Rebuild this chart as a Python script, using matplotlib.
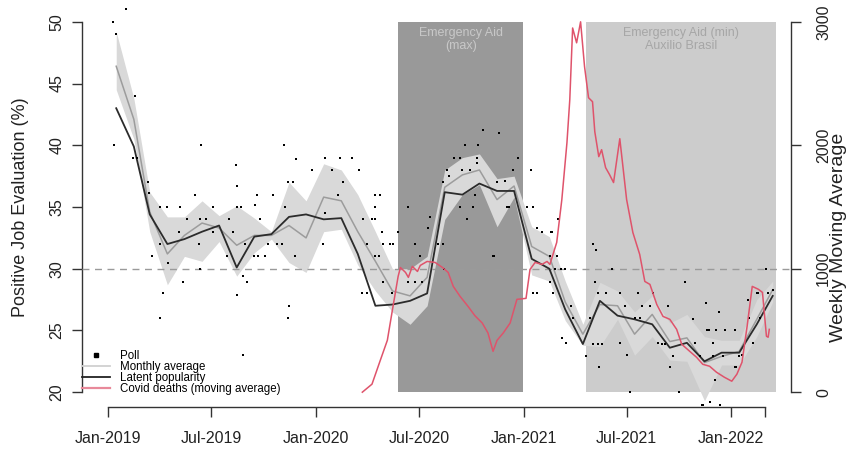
import numpy as np
import pandas as pd
import matplotlib
matplotlib.use("Agg")
import matplotlib.pyplot as plt
import matplotlib.dates as mdates
from matplotlib.lines import Line2D

plt.rcParams["font.family"] = ["Liberation Sans", "DejaVu Sans"]

# ---------- Data ----------
# monthly series, plotted at mid-month, Jan-2019 .. Mar-2022
MONTHS = pd.date_range("2019-01-01", periods=39, freq="MS") + pd.Timedelta(days=14)

LATENT = [43.0, 39.9, 34.4, 32.0, 32.4, 33.0, 33.5, 30.1, 32.6, 32.8,
          34.2, 34.4, 34.0, 34.1, 31.2, 27.0, 27.1, 27.4, 28.0, 36.2,
          36.0, 36.9, 36.3, 36.3, 30.8, 30.0, 26.7, 23.9, 27.4, 26.2,
          25.9, 25.5, 23.6, 24.0, 22.5, 23.2, 23.2, 25.5, 27.8]

MONTHLY = [46.4, 42.1, 34.6, 31.2, 32.7, 33.7, 33.3, 31.9, 32.7, 32.7,
           33.5, 32.5, 35.8, 35.5, 33.0, 30.6, 28.2, 27.8, 29.3, 36.6,
           37.6, 38.0, 35.6, 36.7, 31.8, 31.0, 27.3, 24.7, 27.1, 27.0,
           24.7, 26.3, 24.1, 24.4, 22.4, 22.9, 23.3, 25.9, 28.3]

RIB_LO = [44.5, 40.5, 33.0, 28.7, 31.0, 30.6, 32.2, 29.4, 31.3, 32.4,
          30.5, 29.7, 33.0, 33.2, 30.3, 28.2, 26.5, 25.5, 27.0, 34.0,
          36.0, 36.8, 33.4, 35.8, 29.5, 29.0, 25.8, 23.8, 23.7, 25.9,
          23.0, 24.5, 22.6, 22.5, 19.3, 22.2, 22.2, 24.5, 27.3]

RIB_HI = [49.2, 43.8, 36.2, 34.2, 34.2, 35.5, 34.3, 35.1, 34.1, 33.0,
          37.0, 35.5, 38.5, 38.0, 36.0, 33.0, 30.0, 30.0, 31.0, 38.0,
          39.0, 39.3, 37.3, 37.5, 33.4, 32.6, 29.0, 25.5, 28.9, 28.2,
          26.5, 27.8, 25.6, 26.3, 24.5, 24.2, 24.2, 27.5, 29.0]

# individual polls
POLL_DATES = [
    "2019-01-09", "2019-01-15", "2019-02-01", "2019-01-11", "2019-02-17", "2019-02-14",
    "2019-02-21", "2019-03-12", "2019-03-14", "2019-03-19", "2019-04-02", "2019-04-14",
    "2019-05-07", "2019-04-02", "2019-04-16", "2019-04-07", "2019-04-02", "2019-05-13",
    "2019-05-06", "2019-05-20", "2019-06-03", "2019-06-12", "2019-06-22", "2019-06-13",
    "2019-06-10", "2019-06-12", "2019-07-04", "2019-07-04", "2019-08-02", "2019-07-29",
    "2019-08-14", "2019-08-16", "2019-08-16", "2019-08-23", "2019-08-16", "2019-08-26",
    "2019-09-02", "2019-08-26", "2019-08-09", "2019-08-30", "2019-09-20", "2019-09-16",
    "2019-09-25", "2019-09-15", "2019-09-22", "2019-10-04", "2019-10-18", "2019-10-09",
    "2019-10-25", "2019-11-03", "2019-11-06", "2019-11-13", "2019-11-22", "2019-11-08",
    "2019-11-15", "2019-11-13", "2019-11-26", "2019-11-28", "2019-12-26", "2020-01-18",
    "2020-02-13", "2020-03-05", "2020-01-30", "2020-02-18", "2020-02-09", "2020-03-17",
    "2020-01-18", "2020-01-14", "2020-04-14", "2020-04-23", "2020-04-14", "2020-03-24",
    "2020-04-09", "2020-04-14", "2020-04-27", "2020-03-31", "2020-04-29", "2020-05-11",
    "2020-05-16", "2020-04-14", "2020-04-22", "2020-04-29", "2020-03-23", "2020-03-31",
    "2020-05-14", "2020-05-25", "2020-06-12", "2020-06-24", "2020-06-12", "2020-06-24",
    "2020-07-06", "2020-07-03", "2020-07-17", "2020-07-20", "2020-08-03", "2020-08-12",
    "2020-08-14", "2020-08-19", "2020-08-12", "2020-08-23", "2020-09-01", "2020-09-11",
    "2020-09-20", "2020-09-15", "2020-09-29", "2020-09-11", "2020-09-24", "2020-10-04",
    "2020-10-07", "2020-10-12", "2020-10-11", "2020-10-11", "2020-10-21", "2020-11-19",
    "2020-11-08", "2020-11-10", "2020-11-15", "2020-11-29", "2020-12-02", "2020-12-06",
    "2020-12-13", "2020-12-22", "2021-01-06", "2021-01-13", "2021-01-18", "2021-01-25",
    "2021-02-02", "2021-02-18", "2021-02-28", "2021-03-02", "2021-02-25", "2021-03-07",
    "2021-03-14", "2021-01-18", "2021-01-25", "2021-02-16", "2021-05-02", "2021-05-06",
    "2021-02-19", "2021-02-16", "2021-02-28", "2021-02-21", "2021-03-26", "2021-03-09",
    "2021-03-16", "2021-03-28", "2021-04-27", "2021-05-08", "2021-05-11", "2021-05-25",
    "2021-06-06", "2021-06-19", "2021-06-28", "2021-07-21", "2021-07-28", "2021-04-21",
    "2021-05-02", "2021-05-11", "2021-05-18", "2021-05-13", "2021-06-19", "2021-07-01",
    "2021-07-07", "2021-07-16", "2021-07-24", "2021-08-11", "2021-08-16", "2021-08-25",
    "2021-09-12", "2021-09-02", "2021-09-07", "2021-09-21", "2021-09-15", "2021-09-16",
    "2021-10-01", "2021-10-11", "2021-10-26", "2021-10-29", "2021-11-07", "2021-11-19",
    "2021-11-18", "2021-11-30", "2021-12-10", "2021-11-23", "2021-12-06", "2021-12-03",
    "2021-11-10", "2021-11-12", "2021-11-24", "2021-12-12", "2021-12-18", "2022-01-08",
    "2022-01-08", "2022-01-10", "2022-01-20", "2022-02-01", "2022-01-31", "2022-02-09",
    "2022-02-21", "2022-02-16", "2022-02-18", "2022-03-04", "2022-03-06", "2022-03-16",
    "2021-12-21", "2021-11-30", "2022-01-15",
]
POLL_VALS = [
    50.0, 49.0, 51.0, 40.0, 44.0, 39.0,
    39.0, 37.0, 36.1, 31.0, 35.0, 35.0,
    35.0, 32.0, 30.5, 28.0, 26.0, 28.9,
    33.0, 34.0, 36.0, 34.0, 34.0, 40.0,
    32.0, 30.0, 35.0, 33.0, 34.0, 31.0,
    38.4, 36.7, 35.0, 35.0, 27.9, 29.4,
    28.9, 23.0, 33.0, 32.0, 36.0, 35.2,
    34.0, 31.0, 31.0, 31.0, 36.0, 32.0,
    32.0, 32.0, 40.0, 37.0, 37.0, 35.0,
    27.0, 26.0, 31.0, 38.9, 38.0, 39.0,
    39.0, 39.0, 38.0, 37.0, 36.0, 38.0,
    34.5, 32.0, 36.0, 36.0, 35.0, 34.0,
    34.0, 34.0, 33.0, 32.0, 32.0, 32.0,
    32.0, 31.0, 31.0, 28.9, 28.0, 28.0,
    28.0, 33.0, 35.0, 32.0, 28.9, 28.9,
    28.9, 31.0, 33.3, 34.2, 32.0, 32.0,
    30.0, 38.0, 37.0, 37.5, 39.0, 39.0,
    40.0, 38.0, 38.0, 35.0, 34.0, 35.0,
    36.0, 40.0, 39.0, 38.6, 41.2, 41.0,
    31.0, 31.0, 37.0, 37.1, 35.0, 35.0,
    38.0, 39.0, 35.0, 38.0, 35.0, 33.3,
    33.0, 33.0, 31.0, 34.0, 30.0, 30.0,
    30.0, 28.0, 28.0, 28.9, 32.0, 28.9,
    33.0, 31.0, 31.0, 28.0, 27.0, 24.4,
    24.0, 26.0, 26.0, 31.5, 28.0, 28.0,
    30.0, 28.0, 27.0, 28.0, 27.0, 22.9,
    23.9, 23.9, 23.9, 22.0, 24.0, 23.0,
    20.0, 26.0, 26.0, 27.0, 28.0, 24.0,
    27.0, 23.9, 23.9, 22.9, 22.0, 22.0,
    20.0, 28.9, 25.9, 24.0, 22.9, 25.0,
    27.2, 22.9, 26.5, 25.0, 25.0, 21.0,
    19.0, 19.0, 19.2, 19.0, 22.9, 25.0,
    22.0, 22.0, 23.0, 26.0, 27.5, 24.0,
    26.0, 28.0, 28.0, 30.0, 28.0, 28.3,
    25.0, 24.0, 22.9,
]

# covid deaths, weekly moving average
COVID_DATES = [
    "2020-03-23", "2020-04-09", "2020-04-23", "2020-05-06", "2020-05-16", "2020-05-25",
    "2020-05-29", "2020-06-07", "2020-06-12", "2020-06-19", "2020-06-28", "2020-07-03",
    "2020-07-15", "2020-07-29", "2020-08-11", "2020-08-21", "2020-08-30", "2020-09-11",
    "2020-09-25", "2020-10-07", "2020-10-20", "2020-10-30", "2020-11-08", "2020-11-15",
    "2020-11-26", "2020-12-08", "2020-12-20", "2021-01-05", "2021-01-12", "2021-01-21",
    "2021-02-02", "2021-02-11", "2021-02-16", "2021-02-28", "2021-03-09", "2021-03-18",
    "2021-03-23", "2021-03-28", "2021-04-04", "2021-04-11", "2021-04-18", "2021-04-25",
    "2021-05-02", "2021-05-06", "2021-05-13", "2021-05-18", "2021-05-25", "2021-06-01",
    "2021-06-08", "2021-06-19", "2021-07-01", "2021-07-12", "2021-07-24", "2021-08-02",
    "2021-08-11", "2021-08-23", "2021-09-03", "2021-09-15", "2021-09-27", "2021-10-06",
    "2021-10-20", "2021-11-01", "2021-11-12", "2021-11-24", "2021-12-06", "2021-12-20",
    "2022-01-02", "2022-01-11", "2022-01-20", "2022-01-29", "2022-02-07", "2022-02-18",
    "2022-02-25", "2022-03-04", "2022-03-07", "2022-03-09",
]
COVID_VALS = [
    0, 65, 250, 420, 695, 938,
    1010, 970, 930, 1019, 978, 1027,
    1059, 1051, 1010, 970, 857, 776,
    695, 620, 560, 480, 331, 420,
    480, 560, 752, 760, 994, 1051,
    1035, 1059, 1035, 1213, 1560, 2021,
    2369, 2950, 2830, 3000, 2636, 2385,
    2353, 2110, 1908, 1964, 1819, 1762,
    1698, 2053, 1560, 1293, 1116, 897,
    873, 711, 614, 590, 509, 388,
    331, 283, 226, 210, 162, 121,
    89, 146, 243, 534, 857, 833,
    808, 453, 445, 509,
]

AID_MAX = ("2020-05-25", "2020-12-31")
AID_MIN = ("2021-04-21", "2022-03-20")

XTICKS = ["2019-01-01", "2019-07-01", "2020-01-01", "2020-07-01",
          "2021-01-01", "2021-07-01", "2022-01-01", "2022-03-01"]
XTICKLABELS = ["Jan-2019", "Jul-2019", "Jan-2020", "Jul-2020",
               "Jan-2021", "Jul-2021", "Jan-2022", ""]

# ---------- Plot ----------
poll_d = pd.to_datetime(POLL_DATES)
covid_d = pd.to_datetime(COVID_DATES)
xt = pd.to_datetime(XTICKS)

fig = plt.figure(figsize=(8.48, 4.5), dpi=100)
ax = fig.add_axes([82 / 848, 43 / 450, 709 / 848, 400 / 450])
ax2 = ax.twinx()

# R-style 4% padding around data range
x0, x1 = mdates.date2num(xt[0]), mdates.date2num(xt[-1])
pad = 0.04 * (x1 - x0)
ax.set_xlim(x0 - pad, x1 + pad)
ax.set_ylim(20 - 1.2, 50 + 1.2)
ax2.set_ylim(0 - 120, 3000 + 120)

# policy periods
amax = pd.to_datetime(list(AID_MAX))
amin = pd.to_datetime(list(AID_MIN))
ax.fill_between(amax, 20, 50, color="#999999", lw=0, zorder=0)
ax.fill_between(amin, 20, 50, color="#CCCCCC", lw=0, zorder=0)
ax.text(amax[0] + (amax[1] - amax[0]) / 2, 49.6, "Emergency Aid\n(max)",
        ha="center", va="top", fontsize=9, color="#C8C8C8", linespacing=1.15, zorder=1)
ax.text(amin[0] + (amin[1] - amin[0]) / 2, 49.6, "Emergency Aid (min)\nAuxilio Brasil",
        ha="center", va="top", fontsize=9, color="#A6A6A6", linespacing=1.15, zorder=1)

ax.fill_between(MONTHS, RIB_LO, RIB_HI, color="#D9D9D9", lw=0, zorder=2)
ax.axhline(30, color="#9A9A9A", lw=1, ls=(0, (5, 4)), zorder=3)
ax.plot(MONTHS, MONTHLY, color="#9C9C9C", lw=1.1, zorder=4)
ax.plot(MONTHS, LATENT, color="#2B2B2B", lw=1.3, zorder=5)
ax.scatter(poll_d, POLL_VALS, s=2.5, marker="s", color="black", lw=0, zorder=6)

ax2.plot(covid_d, COVID_VALS, color="#DF536B", lw=1.1, zorder=3)

# ---------- Axes ----------
for sp in ["top", "right"]:
    ax.spines[sp].set_visible(False)
for sp in ["top", "left", "bottom"]:
    ax2.spines[sp].set_visible(False)
ax.spines["left"].set_bounds(20, 50)
ax.spines["bottom"].set_bounds(x0, x1)
ax2.spines["right"].set_bounds(0, 3000)
for sp in [ax.spines["left"], ax.spines["bottom"], ax2.spines["right"]]:
    sp.set_color("#333333")
    sp.set_linewidth(1)

ax.set_xticks(xt)
ax.set_xticklabels(XTICKLABELS)
ax.set_yticks([20, 25, 30, 35, 40, 45, 50])
ax2.set_yticks([0, 1000, 2000, 3000])

ax.tick_params(axis="x", direction="out", length=7, width=1, color="#333333",
               labelsize=11.5, pad=10, labelcolor="#222222")
ax.tick_params(axis="y", direction="out", length=7, width=1, color="#333333",
               labelsize=11.5, pad=5.5, labelcolor="#222222")
ax2.tick_params(axis="y", direction="out", length=7, width=1, color="#333333",
                labelsize=11.5, pad=11, labelcolor="#222222")
for lab in ax.get_yticklabels():
    lab.set_rotation(90)
    lab.set_va("center")
for lab in ax2.get_yticklabels():
    lab.set_rotation(90)
    lab.set_va("center")

ax.set_ylabel("Positive Job Evaluation (%)", fontsize=13, color="#222222", labelpad=15)
ax2.set_ylabel("Weekly Moving Average", fontsize=14, color="#222222", rotation=90,
               ha="center", va="center")
ax2.yaxis.set_label_coords(1.067, 0.425)

# ---------- Legend ----------
handles = [
    Line2D([], [], marker="s", ms=2.2, ls="none", color="black"),
    Line2D([], [], color="#D0D0D0", lw=1.3),
    Line2D([], [], color="#222222", lw=1.3),
    Line2D([], [], color="#E8899A", lw=1.6),
]
labels = ["Poll", "Monthly average", "Latent popularity", "Covid deaths (moving average)"]
ax2.legend(handles, labels, loc="lower left", bbox_to_anchor=(0.0, 0.03),
           frameon=False, fontsize=8.3, labelspacing=-0.1, handlelength=2.4,
           handletextpad=0.9, borderpad=0, borderaxespad=0)

fig.savefig("out.png", dpi=100)
plt.close(fig)
